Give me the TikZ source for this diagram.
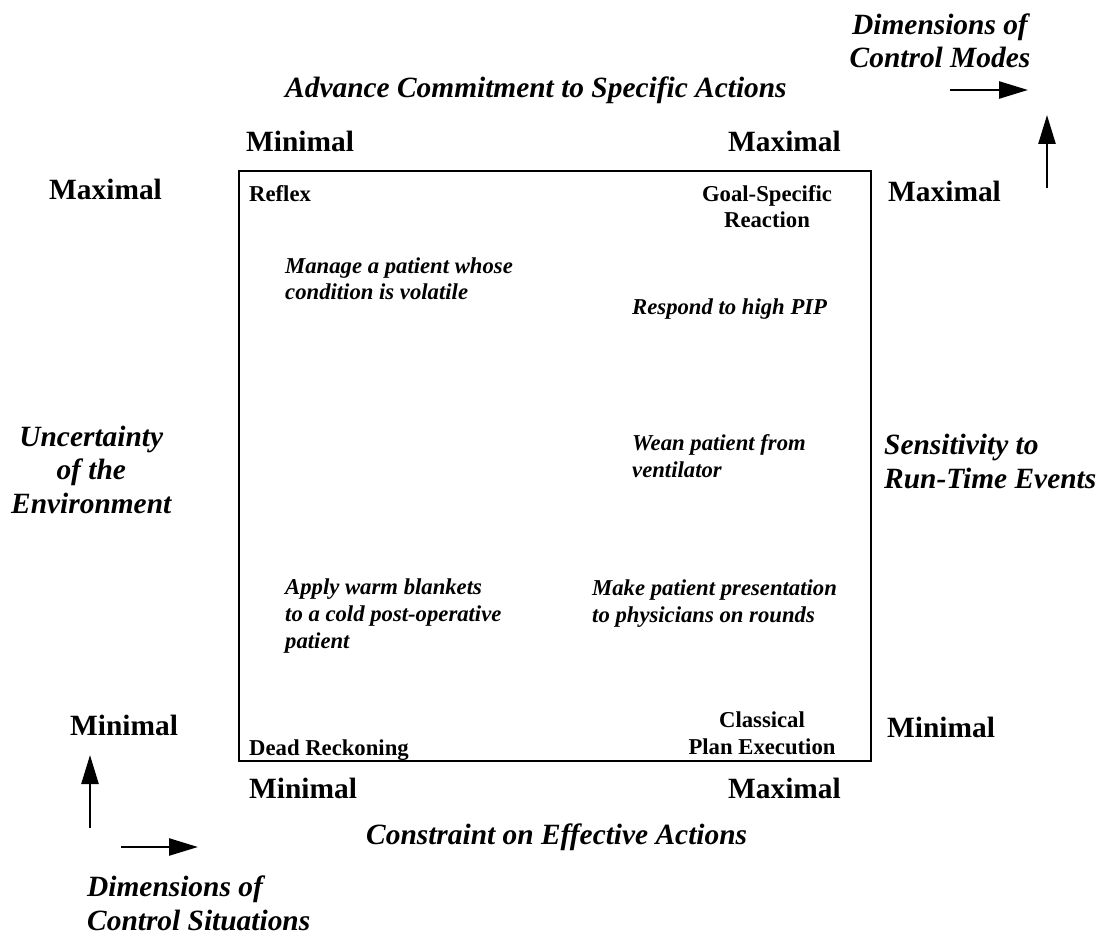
\documentclass[tikz,border=0pt]{standalone}
\usepackage{fontspec}
\setmainfont{Liberation Serif}
\usetikzlibrary{arrows.meta}

\begin{document}
\begin{tikzpicture}[x=1pt, y=-1pt]

      \tikzset{big/.style={inner sep=0pt, font=\fontsize{29.4}{33.5}\selectfont\bfseries},
               bigit/.style={inner sep=0pt, font=\fontsize{29.4}{33.5}\selectfont\bfseries\itshape},
               small/.style={inner sep=0pt, font=\fontsize{22.7}{26.5}\selectfont\bfseries},
               smallit/.style={inner sep=0pt, font=\fontsize{22.7}{26.8}\selectfont\bfseries\itshape},
               dimarrow/.style={line width=2.5pt, -{Triangle[length=29pt, width=17pt]}}}
      \useasboundingbox (0,0) rectangle (1101,941);
%% Frame
      	\draw[line width=2pt] (239,171) rectangle (871,761);
%% Axis labels
      	\node[bigit, anchor=base west] (adv) at (285,98) {Advance Commitment to Specific Actions};
      	\node[big, anchor=base west] (minTL) at (246,152) {Minimal};
      	\node[big, anchor=base east] (maxTR) at (841,152) {Maximal};
      	\node[big, anchor=base west] (maxL) at (49,200) {Maximal};
      	\node[big, anchor=base west] (maxR) at (888,202) {Maximal};
      	\node[bigit, anchor=base west, align=center] (uncert) at (11,513) {Uncertainty\\of the\\Environment};
      	\node[bigit, anchor=base west, align=left] (sens) at (884,488) {Sensitivity to\\Run-Time Events};
      	\node[big, anchor=base west] (minL) at (70,735) {Minimal};
      	\node[big, anchor=base west] (minR) at (887,737) {Minimal};
      	\node[big, anchor=base west] (minB) at (249,798) {Minimal};
      	\node[big, anchor=base east] (maxB) at (841,798) {Maximal};
      	\node[bigit, anchor=base west] (constr) at (366,844) {Constraint on Effective Actions};
%% Dimensions
      	\node[bigit, anchor=base, align=center] (modes) at (940,68) {Dimensions of\\Control Modes};
      	\node[bigit, anchor=base west, align=left] (situ) at (87,930) {Dimensions of\\Control Situations};
      	\coordinate (mA) at (950,90);   \coordinate (mB) at (1028,90);
      	\coordinate (mC) at (1047,188); \coordinate (mD) at (1047,115);
      	\coordinate (sA) at (90,828);   \coordinate (sB) at (90,755);
      	\coordinate (sC) at (121,847);  \coordinate (sD) at (198,847);
		\draw[dimarrow] (mA) -- (mB);
		\draw[dimarrow] (mC) -- (mD);
		\draw[dimarrow] (sA) -- (sB);
		\draw[dimarrow] (sC) -- (sD);
%% Control modes
      	\node[small, anchor=base west] (reflex) at (249,202) {Reflex};
      	\node[small, anchor=base, align=center] (goal) at (767,228) {Goal-Specific\\Reaction};
      	\node[small, anchor=base west] (dead) at (249,755) {Dead Reckoning};
      	\node[small, anchor=base, align=center] (plan) at (762,754) {Classical\\Plan Execution};
%% Examples
      	\node[smallit, anchor=base west, align=left] (manage) at (285,300) {Manage a patient whose\\condition is volatile};
      	\node[smallit, anchor=base west] (pip) at (632,315) {Respond to high PIP};
      	\node[smallit, anchor=base west, align=left] (wean) at (632,477) {Wean patient from\\ventilator};
      	\node[smallit, anchor=base west, align=left] (warm) at (285,648) {Apply warm blankets\\to a cold post-operative\\patient};
      	\node[smallit, anchor=base west, align=left] (rounds) at (592,622) {Make patient presentation\\to physicians on rounds};

	\end{tikzpicture}
\end{document}
